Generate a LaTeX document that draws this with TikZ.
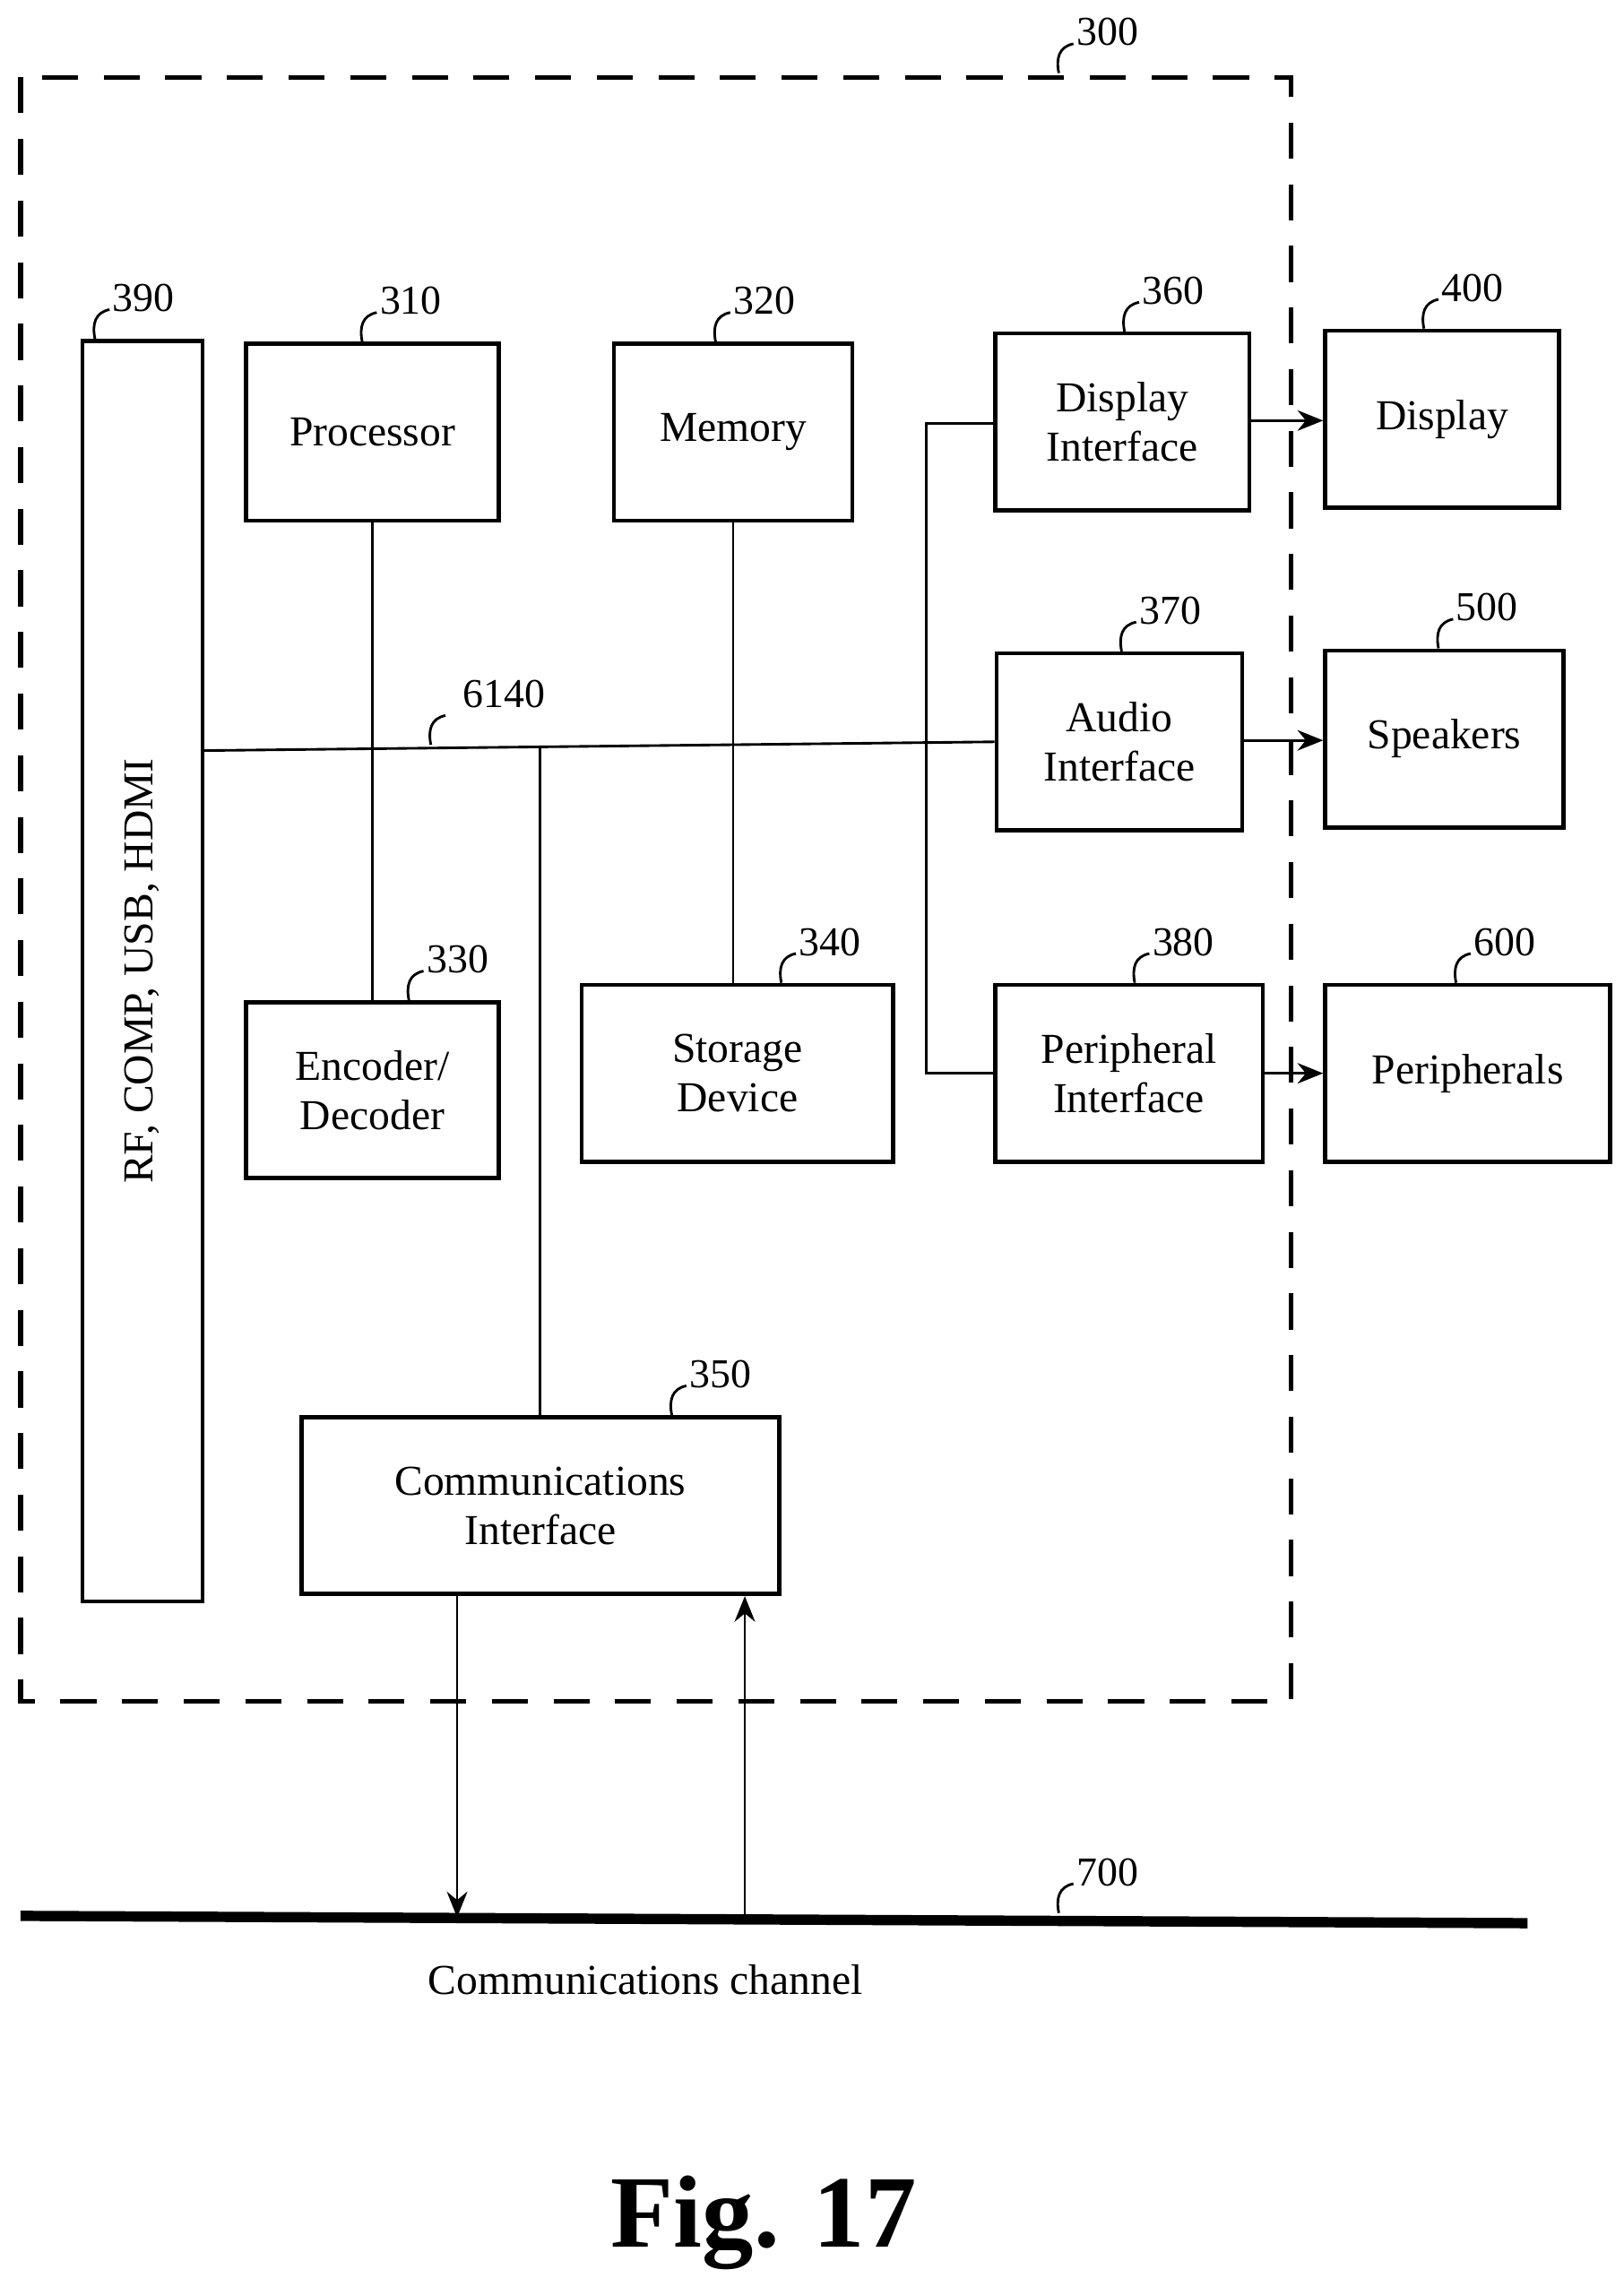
\documentclass[tikz,border=0pt]{standalone}
\usepackage{fontspec}
\setmainfont{Liberation Serif}
\usetikzlibrary{arrows.meta}
\begin{document}
\begin{tikzpicture}[x=0.01cm,y=-0.01cm,
  box/.style={draw,line width=0.8pt,align=center,font=\fontsize{8.3}{9.6}\selectfont,inner sep=0pt},
  lbl/.style={font=\fontsize{8}{9}\selectfont,anchor=west,inner sep=1pt},
  ln/.style={line width=0.5pt},
  arr/.style={ln,-{Stealth[length=5pt,width=4pt]}}]
\useasboundingbox (0,0) rectangle (1112,1560);
\newcommand\bx[6]{\node[box,minimum width=#4*0.01cm-0.8pt,minimum height=#5*0.01cm-0.8pt] (#1) at ({(#2+#4/2)},{(#3+#5/2)}) {#6};}
\newcommand\tick[3]{\draw[ln] (#1,#2) .. controls (#1-2,{#2-10}) and (#1,{#2-18}) .. (#1+10,{#2-20}); \node[lbl] at (#1+8,{#2-28}) {#3};}
\draw[line width=1pt,dash pattern=on 7pt off 5pt] (14,53) rectangle (884,1165);
\tick{725}{50}{300}
\bx{rf}{55}{232}{85}{866}{\rotatebox{90}{RF, COMP, USB, HDMI}}
\tick{65}{232}{390}
\bx{proc}{167}{234}{176}{124}{Processor}
\tick{248}{234}{310}
\bx{mem}{419}{234}{166}{124}{Memory}
\tick{490}{234}{320}
\bx{di}{680}{227}{177}{124}{Display\\Interface}
\tick{770}{227}{360}
\bx{disp}{906}{225}{163}{124}{Display}
\tick{975}{225}{400}
\bx{ai}{681}{446}{171}{124}{Audio\\Interface}
\tick{768}{446}{370}
\bx{spk}{906}{444}{166}{124}{Speakers}
\tick{985}{444}{500}
\bx{pi}{680}{673}{186}{124}{Peripheral\\Interface}
\tick{777}{673}{380}
\bx{per}{906}{673}{198}{124}{Peripherals}
\tick{997}{673}{600}
\bx{enc}{167}{685}{176}{123}{Encoder/\\Decoder}
\tick{280}{685}{330}
\bx{sto}{397}{673}{216}{124}{Storage\\Device}
\tick{535}{673}{340}
\bx{com}{205}{969}{330}{124}{Communications\\Interface}
\tick{460}{969}{350}
% bus
\coordinate (b1) at (140,514);
\coordinate (b2) at (681,508);
\draw[ln] (b1) -- (b2);
\draw[ln] (295,510) .. controls (293,500) and (295,492) .. (305,490);
\node[lbl] at (313,475) {6140};
\draw[ln] (proc.south -| 255,0) -- (enc.north -| 255,0);
\draw[ln] (mem.south -| 502,0) -- (sto.north -| 502,0);
\draw[ln] (370,512) -- (com.north -| 370,0);
\draw[ln] (di.west |- 0,290) -- (634,290) -- (634,735) -- (pi.west |- 0,735);
\draw[arr] (di.east |- 0,288) -- (disp.west |- 0,288);
\draw[arr] (ai.east |- 0,507) -- (spk.west |- 0,507);
\draw[arr] (pi.east |- 0,735) -- (per.west |- 0,735);
% channel
\coordinate (c1) at (14,1312);
\coordinate (c2) at (1046,1317);
\draw[line width=2pt] (c1) -- (c2);
\tick{725}{1310}{700}
\draw[arr] (com.south -| 313,0) -- (313,1313);
\draw[arr] (510,1314) -- (com.south -| 510,0);
\node[font=\fontsize{8.3}{9.6}\selectfont] at (442,1356) {Communications channel};
\node[font=\fontsize{20}{24}\selectfont\bfseries] at (523,1522) {Fig. 17};
\end{tikzpicture}
\end{document}
